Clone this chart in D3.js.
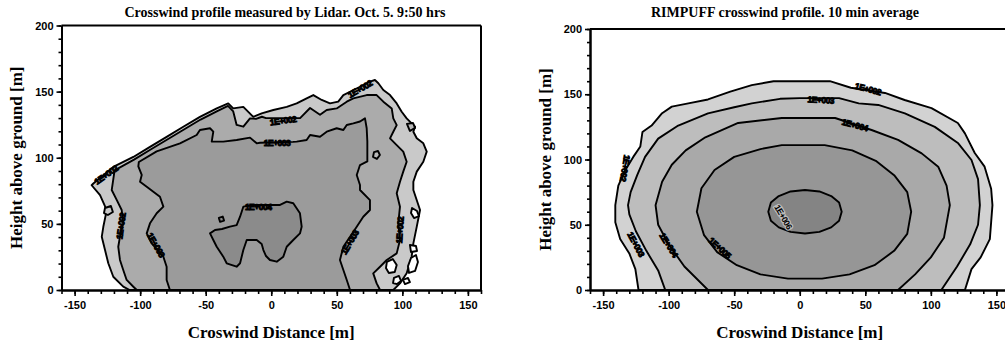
<!DOCTYPE html>
<html>
<head>
<meta charset="utf-8">
<script src="https://cdn.jsdelivr.net/npm/d3@7"></script>
<style>
  html, body { margin: 0; padding: 0; background: #fff; }
  svg { display: block; }
</style>
</head>
<body>
<svg id="chart" width="1005" height="344"></svg>
<script>
// ---------------- DATA ----------------
const xTickValues = [-150, -100, -50, 0, 50, 100, 150];
const yTickValues = [0, 50, 100, 150, 200];
const xDomain = [-160, 160];
const yDomain = [0, 200];

const leftTitle = "Crosswind profile measured by Lidar. Oct. 5. 9:50 hrs";
const rightTitle = "RIMPUFF crosswind profile. 10 min average";
const xAxisTitle = "Croswind Distance [m]";
const yAxisTitle = "Height above ground [m]";

// Lidar measured contours (crosswind distance m, height m)
const lidarLevelA = [[-108,0],[-112.9,2.5],[-120.5,10],[-124.3,20.2],[-126.8,30.2],[-129.3,40.2],[-128.1,47.8],[-125.5,60.4],[-130.6,71.7],[-137,79.2],[-135.7,80.5],[-120.5,93.1],[-105.2,100.6],[-92.5,108.2],[-79.8,115.8],[-67.1,123.4],[-54.4,130.9],[-41.6,137.3],[-32.8,141.1],[-29,137.3],[-21.3,138.5],[-13.7,130.9],[-7.3,133.5],[1.6,136.1],[11.8,138.5],[19.4,141.1],[27,144.9],[32.1,147.4],[38.5,143.7],[44.8,141.1],[51.1,142.4],[55,147.4],[60.1,149.9],[67.7,153.7],[75.3,157.5],[79.1,158.8],[81.7,156.3],[85.5,151.2],[90.6,147.4],[95.7,141.1],[99.5,134.8],[103.3,129.8],[107.1,126],[109.7,123.5],[108.4,119.7],[111,114.7],[116,110.9],[118.6,104.6],[116,97],[111,89.5],[108.4,81.9],[108.4,75.6],[113.5,60.5],[111,47.9],[108.4,35.3],[107.1,25.2],[103.3,12.6],[98.2,5],[93.1,0]];
const lidarLevelB = [[-102.6,0],[-105.2,2.5],[-110.3,7.6],[-112.9,15.1],[-115.4,22.7],[-116.7,32.7],[-115.4,40.3],[-112.9,50.4],[-114.1,60.5],[-117.9,68.1],[-121.7,75.6],[-119.5,90.5],[-104.7,98.6],[-92,106.2],[-79.3,113.8],[-66.6,121.4],[-53.9,128.9],[-41.2,135.3],[-33,139.2],[-29,135],[-26.4,124.8],[-21.3,123.5],[-16.2,129.8],[-11.6,129.4],[-7.1,131],[-4,130],[22,130],[29.6,137.6],[37.2,132.5],[42.3,136.1],[49.9,137.3],[57.6,142.4],[62.6,144.9],[72.8,147.4],[80.4,147.4],[85.5,142.4],[91.9,137.3],[93.1,129.8],[95.7,124.7],[93.1,119.7],[90.6,114.7],[95.7,109.6],[100.7,104.6],[103.3,97],[100.7,89.5],[98.2,81.9],[95.7,73.1],[98.2,63],[96.9,50.4],[98.2,37.8],[95.7,27.7],[88.1,22.7],[83,17.6],[77.8,12.6],[80.4,5],[83,0]];
const lidarLevelC = [[-77.3,0],[-79.8,7.6],[-79.8,17.6],[-82.3,25.2],[-91.2,35.3],[-95,42.8],[-92.5,50.4],[-87.4,58],[-82.3,63],[-84.9,70.5],[-95,78.1],[-100.1,81.9],[-98.8,87],[-101.4,93.5],[-101,96.8],[-87.4,104.8],[-69.6,110.9],[-56.9,117.2],[-54.4,121],[-46.7,122.3],[-44.2,119.7],[-45.4,112.2],[-36.6,112.2],[-26.4,113.4],[-16.2,115.2],[-11.1,110.9],[-8.6,111.3],[16.6,112],[19.4,112.2],[27,113.4],[29.6,117.2],[37.2,115.9],[42.3,119.7],[49.9,122.3],[55,121],[57.6,124.8],[62.6,126],[67.7,127.4],[71.5,129.8],[72.8,122.3],[73.3,112.2],[73.3,97.2],[67.7,94.5],[65.2,87],[67.7,79.4],[67.7,75.6],[75.3,68],[75.3,60.5],[70.2,55.4],[65.2,47.9],[60.1,40.3],[55,32.7],[52.4,22.7],[55,15.1],[57.6,7.6],[60.1,0]];
const lidarLevelD = [[-46.7,42.8],[-42.9,45.4],[-37.6,46.1],[-31.5,47.9],[-26.4,49.1],[-23.8,55.4],[-21.3,63],[-12.4,64.3],[-1,64.3],[6.7,64.3],[11.8,66.8],[16.8,65.6],[21.9,58],[23.2,47.9],[21.9,42.8],[16.8,37.8],[11.8,32.7],[9.2,25.2],[4.2,21.4],[-1,22.7],[-4,25.7],[-6,30.2],[-7.3,34.8],[-11.1,37.8],[-18.7,37.8],[-21.3,30.2],[-23.8,20.2],[-26.4,17.6],[-34,20.2],[-36.6,25.2],[-41.6,32.7],[-44.2,37.8]];
// small closed contour loops (holes and islands)
const lidarHoles = [
  [[88.2,21.2],[92.7,23.4],[95.7,18.9],[94.2,13.6],[89.7,12.9],[87.5,16.6]],
  [[93.6,9.1],[97.4,10.6],[99,6.8],[95.9,4.5],[92.9,5.3]],
  [[107.4,62],[111.2,59.7],[112.7,55.9],[108.9,54.4],[106.6,58.2]],
  [[105.8,34],[110.4,33.3],[111.2,29.5],[106.6,28.7]],
  [[106.6,24.2],[110.4,26.5],[111.9,21.2],[109.7,14.4],[105.1,12.9],[104.3,18.1]],
  [[100.5,7.6],[104.3,9.1],[105.8,6],[102,4.5]]
];
const lidarIslandsB = [
  [[78.4,104.3],[81.4,105.1],[82.9,102.1],[80.6,99.1],[77.6,100.6]],
  [[103.5,125.6],[108.1,126.3],[109.7,122.6],[105.8,120.2]]
];
const lidarIslandsA = [
  [[-126.8,62],[-122.3,63.5],[-120.8,59],[-124.6,56.7],[-127.6,58.2]]
];
const lidarIslandsD = [
  [[-40,54.5],[-37,55.5],[-36,52.5],[-39,51.5]]
];
const lidarLabels = [
  {t:"1E+002", x:9, y:128, a:-8},
  {t:"1E+003", x:4.4, y:111, a:0},
  {t:"1E+004", x:-10, y:62.7, a:0},
  {t:"1E+003", x:-88, y:34, a:60},
  {t:"1E+003", x:60, y:36, a:-60},
  {t:"1E+002", x:-114.6, y:48.4, a:-82},
  {t:"1E+002", x:98.2, y:45.4, a:-86},
  {t:"1E+002", x:-126, y:87, a:-35},
  {t:"1E+002", x:67.7, y:152, a:-30}
];

// RIMPUFF model contours
const rimpuffLevel1 = [[-123,0],[-125.4,16],[-130,28],[-137,39],[-140.7,52],[-140.7,65],[-138.4,80],[-133,92],[-127,102],[-121.6,110],[-120,121],[-113,126],[-105,135.5],[-97.6,140.5],[-85,143],[-70,146],[-53,152],[-36.6,157],[-20,160],[23,160],[39,155],[65,151],[80,145.6],[100.5,139.4],[120.6,128],[126,120],[133.5,105],[141,94.5],[146,77.6],[147,65],[145,39],[138,25],[131,16],[126,0]];
const rimpuffLevel2 = [[-102.6,0],[-108,15],[-117,30],[-125,45],[-130,58],[-131,65],[-129,75],[-124,88],[-118,102],[-108,116],[-92.7,126],[-70,135.4],[-50,140],[-36.6,143],[-15,146.5],[0,147],[30,147],[45,143],[59.9,141.8],[80.2,135.4],[103,125],[120.9,112.4],[131,99.6],[136,85],[137.4,65],[136,50],[130,35],[120,18],[108,0]];
const rimpuffLevel3 = [[-70,0],[-88,18],[-100,35],[-108,50],[-110,65],[-105,83],[-97.6,96],[-87,107],[-72,117],[-47,128],[-13.7,131.8],[27,131.8],[54.8,122.6],[75,115],[93,104.7],[105.6,94.5],[112,80],[114.5,65],[110,40],[100,25],[88,12],[75,0]];
const rimpuffLevel4 = [[-78.5,60],[-75,78],[-65,92],[-50,102],[-30,108],[-13.7,111],[19,111],[40,107],[58,99],[72,88],[82,75],[85,60],[82,43],[72,30],[57,19],[38,12],[17,8.7],[-9,8.7],[-30,12],[-48,19],[-63,29],[-73,42]];
const rimpuffLevel5 = [[-24,60],[-22,67],[-16,72],[-7,75.5],[4,76.6],[15,75.5],[24,72],[30,67],[32,60],[30,53],[24,48],[15,44.5],[4,43.3],[-7,44.5],[-16,48],[-22,53]];
const rimpuffLabels = [
  {t:"1E+002", x:52, y:154, a:15},
  {t:"1E+002", x:-133.3, y:93.5, a:100},
  {t:"1E+003", x:16, y:145.6, a:3},
  {t:"1E+003", x:-125, y:35, a:62},
  {t:"1E+004", x:42, y:126.4, a:15},
  {t:"1E+004", x:-100, y:34.5, a:58},
  {t:"1E+005", x:-61, y:32.2, a:42},
  {t:"1E+006", x:-12.6, y:56, a:60, halo:true}
];

// ---------------- DRAW ----------------
const svg = d3.select("#chart");
const serif = "'Liberation Serif','Times New Roman',serif";
const sans = "'Liberation Sans',Arial,sans-serif";

function panel(cfg) {
  const x = d3.scaleLinear().domain(xDomain).range([cfg.x0, cfg.x1]);
  const y = d3.scaleLinear().domain(yDomain).range([cfg.yb, cfg.yt]);
  const g = svg.append("g");
  const line = d3.line().x(d => x(d[0])).y(d => y(d[1])).curve(d3.curveLinearClosed);

  const clipId = "clip" + cfg.id;
  svg.append("clipPath").attr("id", clipId).append("rect")
    .attr("x", cfg.x0).attr("y", cfg.yt).attr("width", cfg.x1 - cfg.x0).attr("height", cfg.yb - cfg.yt);
  const plot = g.append("g").attr("clip-path", `url(#${clipId})`);

  cfg.polys.forEach(p => {
    plot.append("path").attr("d", line(p.pts))
      .attr("fill", p.fill).attr("stroke", "#000").attr("stroke-width", 1.9)
      .attr("stroke-linejoin", "round");
  });

  // contour labels
  cfg.labels.forEach(l => {
    const t = plot.append("text")
      .attr("transform", `translate(${x(l.x)},${y(l.y)}) rotate(${l.a})`)
      .attr("text-anchor", "middle").attr("dy", "0.35em")
      .style("font-family", sans).style("font-weight", "bold").style("font-size", "8.5px")
      .attr("letter-spacing", -0.5)
      .attr("fill", "#000").attr("stroke", "#000").attr("stroke-width", 0.9)
      .text(l.t);
    if (l.halo) {
      t.attr("stroke", "#bcbcbc").attr("stroke-width", 2.5).attr("paint-order", "stroke");
    }
  });

  // axes
  const xMinor = d3.range(-160, 161, 10);
  const yMinor = d3.range(0, 201, 10);
  const fmt = d => String(d);
  const axStyle = sel => {
    sel.selectAll("path.domain").attr("stroke-width", 2);
    sel.selectAll("line").attr("stroke-width", 1.6);
    sel.selectAll("text").style("font-family", sans).style("font-weight", "bold")
      .style("font-size", "11px").attr("fill", "#000");
  };
  g.append("g").attr("transform", `translate(0,${cfg.yb})`)
    .call(d3.axisBottom(x).tickValues(xMinor).tickSize(4).tickSizeOuter(0).tickFormat(""))
    .call(axStyle);
  g.append("g").attr("transform", `translate(0,${cfg.yb})`)
    .call(d3.axisBottom(x).tickValues(xTickValues).tickSize(6).tickSizeOuter(0).tickPadding(5).tickFormat(fmt))
    .call(axStyle);
  g.append("g").attr("transform", `translate(${cfg.x0},0)`)
    .call(d3.axisLeft(y).tickValues(yMinor).tickSize(3).tickSizeOuter(0).tickFormat(""))
    .call(axStyle);
  g.append("g").attr("transform", `translate(${cfg.x0},0)`)
    .call(d3.axisLeft(y).tickValues(yTickValues).tickSize(5).tickSizeOuter(0).tickPadding(3).tickFormat(fmt))
    .call(axStyle);

  // frame
  g.append("line").attr("x1", cfg.x0).attr("x2", cfg.x1).attr("y1", cfg.yt).attr("y2", cfg.yt)
    .attr("stroke", "#000").attr("stroke-width", 2);
  if (cfg.rightFrame) {
    g.append("line").attr("x1", cfg.x1).attr("x2", cfg.x1).attr("y1", cfg.yt).attr("y2", cfg.yb)
      .attr("stroke", "#000").attr("stroke-width", 2);
  }

  // titles
  g.append("text").attr("x", cfg.titleX).attr("y", 16.5).attr("text-anchor", "middle")
    .style("font-family", serif).style("font-weight", "bold").style("font-size", "14px").text(cfg.title);
  g.append("text").attr("x", x(0)).attr("y", 337.5).attr("text-anchor", "middle")
    .style("font-family", serif).style("font-weight", "bold").style("font-size", "17px").text(xAxisTitle);
  g.append("text").attr("transform", `translate(${cfg.yLabelX},${(cfg.yt + cfg.yb) / 2}) rotate(-90)`)
    .attr("text-anchor", "middle")
    .style("font-family", serif).style("font-weight", "bold").style("font-size", "17px").text(yAxisTitle);
}

panel({
  id: "L", x0: 61.5, x1: 481, yt: 25.5, yb: 290, rightFrame: true,
  title: leftTitle, titleX: 285, yLabelX: 21.5,
  polys: [
    {pts: lidarLevelA, fill: "#c9c9c9"},
    ...lidarIslandsA.map(p => ({pts: p, fill: "#c9c9c9"})),
    {pts: lidarLevelB, fill: "#ababab"},
    ...lidarIslandsB.map(p => ({pts: p, fill: "#b9b9b9"})),
    ...lidarHoles.map(p => ({pts: p, fill: "#ffffff"})),
    {pts: lidarLevelC, fill: "#9b9b9b"},
    {pts: lidarLevelD, fill: "#8b8b8b"},
    ...lidarIslandsD.map(p => ({pts: p, fill: "#8b8b8b"}))
  ],
  labels: lidarLabels
});

panel({
  id: "R", x0: 590, x1: 1009.5, yt: 29, yb: 290, rightFrame: false,
  title: rightTitle, titleX: 785, yLabelX: 551,
  polys: [
    {pts: rimpuffLevel1, fill: "#d2d2d2"},
    {pts: rimpuffLevel2, fill: "#bdbdbd"},
    {pts: rimpuffLevel3, fill: "#a9a9a9"},
    {pts: rimpuffLevel4, fill: "#969696"},
    {pts: rimpuffLevel5, fill: "#848484"}
  ],
  labels: rimpuffLabels
});
</script>
</body>
</html>
